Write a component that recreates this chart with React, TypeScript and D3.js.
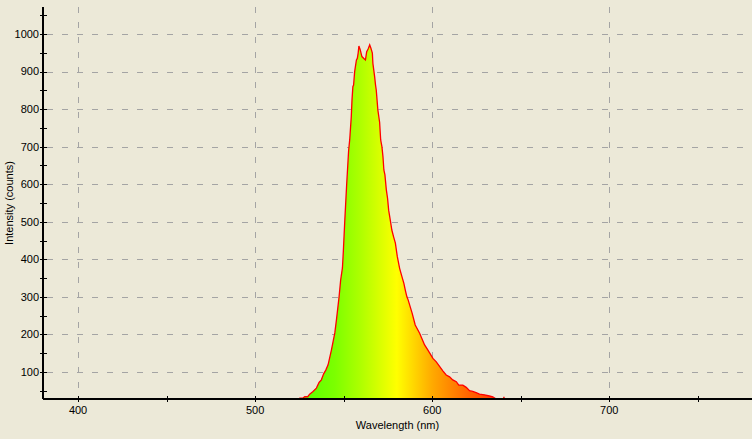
import * as d3 from "d3"

// spectrum (nm, counts)
const wavelengths = [
  524, 525.2, 526.9, 528.0, 529.7, 530.8, 532.7, 534.6, 536.1, 537.4, 538.7, 539.9,
  541.2, 543.1, 545.0, 545.9, 547.4, 548.3, 549.3, 549.8, 550.6, 551.7, 552.8, 553.4,
  554.3, 554.7, 555.2, 555.6, 556.2, 557.2, 557.7, 558.2, 558.6, 559.3, 560.3, 561.4,
  562.3, 563.0, 563.8, 564.7, 565.4, 566.2, 566.5, 567.5, 568.0, 568.4, 569.3, 570.3,
  570.9, 571.6, 572.2, 572.7, 573.3, 574.1, 574.8, 575.4, 576.3, 577.2, 578.2, 579.2,
  580.3, 581.6, 582.9, 584.0, 584.8, 585.7, 586.4, 588.7, 590.4, 592.9, 595.7, 597.5,
  600.4, 602.3, 606.0, 607.9, 609.8, 611.6, 613.6, 615.0, 617.3, 619.2, 621.1, 622.9,
  624.8, 626.7, 629.5, 632.3, 634.2, 636.1, 638.0, 640.2, 640.5, 640.8, 643.0,
]
const counts = [
  20, 30, 30, 34, 34, 41, 48, 57, 72, 79, 95, 105,
  119, 159, 204, 238, 300, 345, 377, 420, 500, 600, 690, 718,
  780, 824, 860, 864, 900, 931, 935, 950, 968, 959, 940, 935,
  931, 953, 960, 971, 962, 949, 922, 886, 864, 851, 798, 765,
  718, 700, 673, 638, 625, 585, 562, 531, 505, 478, 460, 443,
  407, 376, 354, 336, 318, 300, 292, 256, 225, 203, 172, 159,
  136, 127, 103, 92, 87, 79, 74, 65, 65, 59, 50, 48,
  45, 41, 39, 36, 34, 28, 20, 20, 34, 20, 20,
]

const xTicks = [400, 500, 600, 700]
const xMinor = [450, 550, 650, 750]
const yTicks = [100, 200, 300, 400, 500, 600, 700, 800, 900, 1000]
const yMinor = [50, 150, 250, 350, 450, 550, 650, 750, 850, 950, 1050]

// fill colour along the wavelength axis
const colorStops = [526, 545, 560, 580, 600, 620, 640]
const colorValues = ["#55ff00", "#7cff00", "#b0ff00", "#ffff00", "#ffaa00", "#ff6600", "#ff3000"]

const W = 752
const H = 439
const margin = { top: 7, right: 0, bottom: 40, left: 43 }
const font = "'Liberation Sans', Arial, sans-serif"

export default function App() {
  const data = wavelengths.map((w, i) => ({ w, c: counts[i] }))

  const x = d3.scaleLinear().domain([380.2, 780.6]).range([margin.left, W - margin.right])
  const y = d3.scaleLinear().domain([28, 1072]).range([H - margin.bottom, margin.top])

  const bottom = H - margin.bottom

  const area = d3
    .area<{ w: number; c: number }>()
    .x((d) => x(d.w))
    .y0(bottom)
    .y1((d) => y(d.c))

  const line = d3
    .line<{ w: number; c: number }>()
    .x((d) => x(d.w))
    .y((d) => y(d.c))

  const first = colorStops[0]
  const last = colorStops[colorStops.length - 1]

  return (
    <svg
      width={W}
      height={H}
      style={{ position: "fixed", left: 0, top: 0, display: "block", background: "#ECE9D8" }}
    >
      <defs>
        <clipPath id="plot">
          <rect x={margin.left} y={margin.top} width={W - margin.left} height={bottom - margin.top} />
        </clipPath>
        <linearGradient id="spec" gradientUnits="userSpaceOnUse" x1={x(first)} y1={0} x2={x(last)} y2={0}>
          {colorStops.map((s, i) => (
            <stop key={s} offset={(s - first) / (last - first)} stopColor={colorValues[i]} />
          ))}
        </linearGradient>
      </defs>
      <rect width={W} height={H} fill="#ECE9D8" />

      {/* grid */}
      <g stroke="#a4a4a4" strokeWidth={1} strokeDasharray="6,9" shapeRendering="crispEdges">
        {yTicks.map((t) => (
          <line key={t} x1={margin.left + 4} x2={W} y1={Math.round(y(t)) + 0.5} y2={Math.round(y(t)) + 0.5} />
        ))}
        {xTicks.map((t) => (
          <line key={t} x1={Math.round(x(t)) + 0.5} x2={Math.round(x(t)) + 0.5} y1={margin.top} y2={bottom - 3} />
        ))}
      </g>

      {/* spectrum */}
      <g clipPath="url(#plot)">
        <path d={area(data) ?? ""} fill="url(#spec)" />
        <path d={line(data) ?? ""} fill="none" stroke="#ff0000" strokeWidth={1.3} />
      </g>

      {/* axes */}
      <g stroke="#000" shapeRendering="crispEdges">
        <line x1={margin.left} x2={margin.left} y1={margin.top} y2={bottom} strokeWidth={1.5} />
        <line x1={margin.left} x2={W} y1={bottom} y2={bottom} strokeWidth={1.5} />
        {[...yTicks, ...yMinor].map((t) => (
          <line key={"y" + t} x1={margin.left - 3} x2={margin.left + 4} y1={Math.round(y(t)) + 0.5} y2={Math.round(y(t)) + 0.5} />
        ))}
        {[...xTicks, ...xMinor].map((t) => (
          <line key={"x" + t} x1={Math.round(x(t)) + 0.5} x2={Math.round(x(t)) + 0.5} y1={bottom - 3} y2={bottom + 3} />
        ))}
      </g>

      <g fontFamily={font} fontSize={11} fill="#000">
        {yTicks.map((t) => (
          <text key={t} x={margin.left - 4} y={y(t)} dy="0.35em" textAnchor="end">
            {t}
          </text>
        ))}
        {xTicks.map((t) => (
          <text key={t} x={x(t)} y={bottom + 15} textAnchor="middle">
            {t}
          </text>
        ))}
        <text x={(margin.left + W) / 2} y={H - 10} textAnchor="middle">
          Wavelength (nm)
        </text>
        <text
          transform={`translate(13,${(margin.top + bottom) / 2}) rotate(-90)`}
          textAnchor="middle"
        >
          Intensity (counts)
        </text>
      </g>
    </svg>
  )
}
